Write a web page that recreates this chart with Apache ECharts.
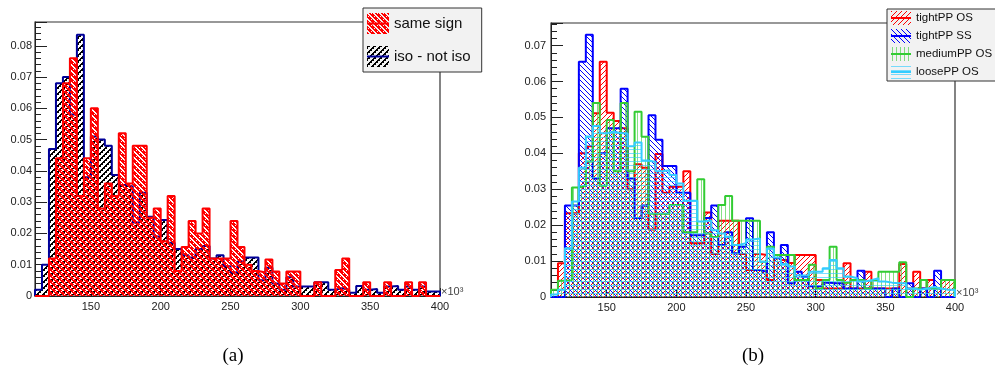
<!DOCTYPE html>
<html><head><meta charset="utf-8">
<script src="https://cdn.jsdelivr.net/npm/echarts@6/dist/echarts.min.js"></script>
<style>html,body{margin:0;padding:0;background:#fff}#c{width:995px;height:378px}</style>
</head><body><div id="c"></div>
<script>
// bin edges (x in units of 10^3)
const binEdges = [110,115,120,125,130,135,140,145,150,155,160,165,170,175,180,185,190,195,200,205,210,215,220,225,230,235,240,245,250,255,260,265,270,275,280,285,290,295,300,305,310,315,320,325,330,335,340,345,350,355,360,365,370,375,380,385,390,395,400];
const xTickLabels = [150,200,250,300,350,400];

// panel (a)
const sameSign = [0,0,0.012,0.044,0.068,0.076,0.032,0.044,0.060,0.028,0.036,0.032,0.052,0.036,0.048,0.048,0.025,0.028,0.0175,0.032,0.008,0.0157,0.024,0.020,0.028,0.012,0.012,0.012,0.024,0.0157,0.010,0.008,0.0075,0.0117,0.0078,0.004,0.0078,0.0078,0,0,0.0044,0,0,0.0083,0.012,0,0,0.0044,0,0,0.0044,0,0,0.0044,0,0.0044,0,0];
const isoNotIso = [0.002,0.010,0.047,0.068,0.070,0.058,0.0835,0.038,0.051,0.050,0.048,0.0387,0.0355,0.035,0.0235,0.033,0.0253,0.019,0.0243,0.017,0.015,0.013,0.0123,0.015,0.016,0.012,0.013,0.0095,0.0075,0.011,0.0123,0.0123,0.005,0.009,0.004,0.002,0.006,0.003,0.003,0.003,0.0044,0.0044,0.002,0.0025,0.002,0.001,0.0032,0.002,0.0022,0.001,0.003,0.0032,0.002,0.003,0.002,0.003,0.0014,0.0014];

// panel (b)
const tightOS = [0,0.0094,0.0233,0.0233,0.040,0.042,0.0512,0.0655,0.0513,0.049,0.047,0.030,0.037,0.036,0.0188,0.0398,0.029,0.0307,0.0307,0.035,0.015,0.015,0.0235,0.012,0.0212,0.0212,0.0212,0.012,0.0075,0.012,0.0117,0.0047,0.0117,0.0103,0.0095,0.0117,0.0117,0.0117,0.0047,0.0024,0.0024,0.0024,0.0094,0.0024,0.0024,0.007,0.0024,0.0024,0.0024,0.0024,0.0092,0.0024,0.007,0.0024,0.0047,0.0024,0.0047,0.0047];
const tightSS = [0,0,0.0255,0.0255,0.0655,0.073,0.033,0.040,0.047,0.047,0.058,0.033,0.022,0.0255,0.0506,0.0438,0.0365,0.0365,0.029,0.029,0.0172,0.0172,0.022,0.0255,0.0145,0.018,0.0122,0.014,0.0219,0.0075,0.007,0.018,0.0108,0.0145,0.0038,0.007,0.0056,0.003,0.003,0.004,0.0038,0.0038,0.0024,0.0024,0.0073,0.0024,0.0024,0.0024,0,0.0024,0,0.0038,0,0.0024,0,0.0073,0,0];
const mediumOS = [0.002,0.0045,0.0047,0.0305,0.031,0.0377,0.054,0.031,0.0493,0.035,0.054,0.035,0.0516,0.0446,0.0232,0.0232,0.0232,0.0256,0.0256,0.018,0.018,0.0328,0.0177,0.0167,0.0256,0.0281,0.0212,0.0212,0.0212,0.0212,0.0098,0.014,0.0117,0.0117,0.0117,0.0047,0.0047,0.009,0.0024,0.0047,0.014,0.0047,0.004,0.0047,0.0047,0.0024,0.0047,0.007,0.007,0.007,0.0097,0,0.0024,0.0047,0.0024,0.0024,0.0047,0.0047];
const looseOS = [0.0007,0.002,0.0136,0.0266,0.036,0.0447,0.0476,0.0456,0.046,0.0457,0.0455,0.042,0.043,0.038,0.0376,0.035,0.0353,0.034,0.0316,0.0268,0.0268,0.021,0.0214,0.0186,0.0177,0.0168,0.0145,0.015,0.016,0.0163,0.0098,0.0135,0.011,0.0092,0.0085,0.006,0.006,0.007,0.007,0.008,0.0103,0.008,0.0057,0.0052,0.0043,0.0047,0.0052,0.0043,0.004,0.0038,0.0038,0.0024,0.002,0.0024,0.0028,0.0024,0.002,0.002];

function tile(w, h, draw) {
  const c = document.createElement('canvas'); c.width = w; c.height = h;
  draw(c.getContext('2d'), w, h); return c;
}
function pixels(w, h, color, test) {
  return tile(w, h, (ctx) => {
    ctx.fillStyle = color;
    for (let y = 0; y < h; y++) for (let x = 0; x < w; x++) if (test(x, y)) ctx.fillRect(x, y, 1, 1);
  });
}
// (a) patterns
const tileIso = pixels(6, 6, '#000', (x, y) => (x + y) % 6 < 2 || ((x + y) % 6 === 2 && y % 2 === 0));
const tileSame = pixels(6, 6, '#ff0000', (x, y) => { const d = (x - y + 12) % 6; return d >= 2 && !(d === 4 && y % 3 === 0); });
// (b) patterns
const tileTOS = pixels(5, 5, '#ff0000', (x, y) => (x + y) % 5 === 0);
const tileTSS = pixels(5, 5, '#0000ff', (x, y) => (x - y + 10) % 5 === 0);
const tileMed = pixels(4, 4, 'rgba(51,204,51,0.6)', (x, y) => x === 1);
const tileLoose = pixels(4, 4, 'rgba(51,204,255,0.65)', (x, y) => y === 1);

function pat(t) { return { image: t, repeat: 'repeat' }; }
function icon(t, w, h, lineColor) {
  const c = document.createElement('canvas'); c.width = w; c.height = h;
  const ctx = c.getContext('2d');
  ctx.fillStyle = ctx.createPattern(t, 'repeat'); ctx.fillRect(0, 0, w, h);
  ctx.strokeStyle = lineColor; ctx.lineWidth = 2; ctx.beginPath();
  ctx.moveTo(0, h / 2); ctx.lineTo(w, h / 2); ctx.stroke();
  return 'image://' + c.toDataURL();
}
function histData(values) {
  const n = binEdges.length - 1;
  const d = [[binEdges[0], 0]];
  values.forEach((v, i) => d.push([binEdges[i], v]));
  d.push([binEdges[n], values[values.length - 1]]);
  d.push([binEdges[n], 0]);
  return d;
}
function hist(name, values, gi, lineColor, t, z) {
  return {
    type: 'line', name: name, xAxisIndex: gi, yAxisIndex: gi, data: histData(values),
    step: 'end', symbol: 'none', showSymbol: false, silent: true, z: z,
    lineStyle: { color: lineColor, width: 2 }, itemStyle: { color: lineColor },
    areaStyle: { color: pat(t), opacity: 1 }
  };
}
const font = 'Liberation Sans';
function xAxis(gi) {
  return {
    type: 'value', gridIndex: gi, min: binEdges[0], max: binEdges[binEdges.length - 1],
    axisLine: { show: true, lineStyle: { color: '#222', width: 1 } },
    axisTick: { show: true, inside: true, length: 8, customValues: xTickLabels, lineStyle: { color: '#222' } },
    axisLabel: { customValues: xTickLabels, fontSize: 11, color: '#222', margin: 5, fontFamily: font },
    splitLine: { show: false },
    name: '×10³', nameLocation: 'end', nameGap: 1,
    nameTextStyle: { fontSize: 11, color: '#444', fontFamily: font, align: 'left', verticalAlign: 'bottom', padding: [0, 0, -1, 0] }
  };
}
function yAxis(gi, max, margin) {
  return {
    type: 'value', gridIndex: gi, min: 0, max: max, interval: 0.01,
    axisLine: { show: true, lineStyle: { color: '#222', width: 1 } },
    axisTick: { show: true, inside: true, length: 12, lineStyle: { color: '#222' } },
    minorTick: { show: true, splitNumber: 5, length: 6, lineStyle: { color: '#222' } },
    axisLabel: { showMaxLabel: false, fontSize: 11, color: '#222', margin: margin, fontFamily: font,
      formatter: (v) => String(+v.toFixed(2)) },
    splitLine: { show: false }
  };
}

const chart = echarts.init(document.getElementById('c'), null, { renderer: 'canvas' });
chart.setOption({
  animation: false,
  backgroundColor: '#fff',
  grid: [
    { left: 35, width: 405, top: 22, height: 274, show: true, borderColor: '#333', borderWidth: 1.2, backgroundColor: 'transparent' },
    { left: 551, width: 404, top: 23, height: 274, show: true, borderColor: '#333', borderWidth: 1.2, backgroundColor: 'transparent' }
  ],
  xAxis: [xAxis(0), xAxis(1)],
  yAxis: [yAxis(0, 0.0876, 3), yAxis(1, 0.0763, 5)],
  legend: [
    { orient: 'vertical', left: 363, top: 8, selectedMode: false,
      data: [{ name: 'same sign', icon: icon(tileSame, 22, 21, '#ff0000') },
             { name: 'iso - not iso', icon: icon(tileIso, 22, 21, '#000099') }],
      itemWidth: 22, itemHeight: 21, itemGap: 12, padding: [5, 11, 5, 4],
      backgroundColor: '#f2f2f2', borderColor: '#333', borderWidth: 1,
      textStyle: { fontSize: 15, color: '#111', fontFamily: font } },
    { orient: 'vertical', left: 887, top: 9, selectedMode: false,
      data: [{ name: 'tightPP OS', icon: icon(tileTOS, 20, 14, '#ff0000') },
             { name: 'tightPP SS', icon: icon(tileTSS, 20, 14, '#0000ff') },
             { name: 'mediumPP OS', icon: icon(tileMed, 20, 14, '#33cc33') },
             { name: 'loosePP OS', icon: icon(tileLoose, 20, 14, '#33ccff') }],
      itemWidth: 20, itemHeight: 14, itemGap: 4, padding: [2, 10, 2, 4],
      backgroundColor: '#f2f2f2', borderColor: '#333', borderWidth: 1,
      textStyle: { fontSize: 11.5, color: '#111', fontFamily: font } }
  ],
  series: [
    hist('iso - not iso', isoNotIso, 0, '#000099', tileIso, 2),
    hist('same sign', sameSign, 0, '#ff0000', tileSame, 3),
    hist('tightPP OS', tightOS, 1, '#ff0000', tileTOS, 2),
    hist('tightPP SS', tightSS, 1, '#0000ff', tileTSS, 3),
    hist('mediumPP OS', mediumOS, 1, '#33cc33', tileMed, 4),
    hist('loosePP OS', looseOS, 1, '#33ccff', tileLoose, 5)
  ],
  graphic: [
    { type: 'text', x: 233, y: 356, style: { text: '(a)', font: '19px "Liberation Serif"', fill: '#000', align: 'center', verticalAlign: 'middle' } },
    { type: 'text', x: 753, y: 356, style: { text: '(b)', font: '19px "Liberation Serif"', fill: '#000', align: 'center', verticalAlign: 'middle' } }
  ]
});
</script></body></html>
